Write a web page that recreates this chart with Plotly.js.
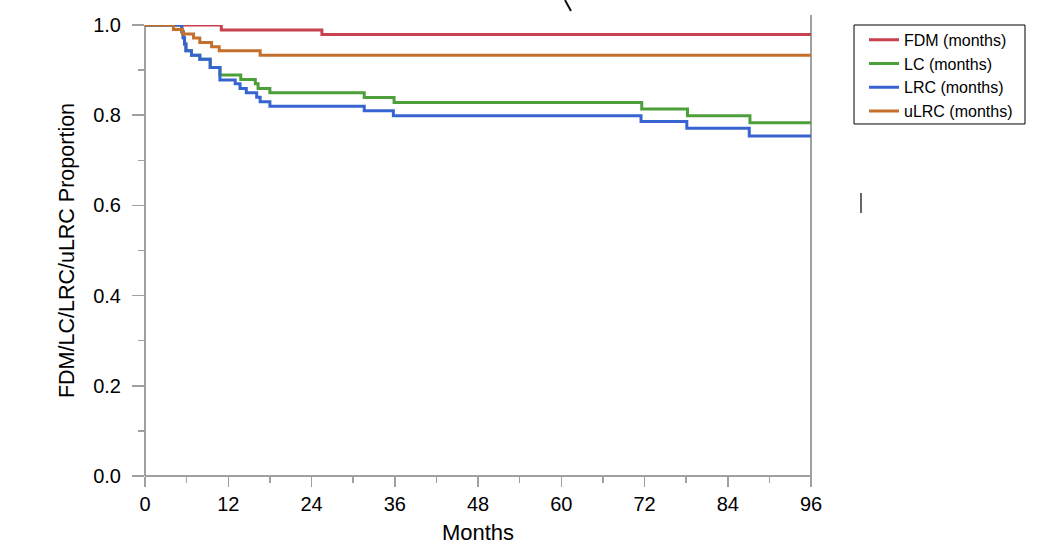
<!DOCTYPE html>
<html>
<head>
<meta charset="utf-8">
<script src="https://cdn.plot.ly/plotly-3.0.1.min.js"></script>
<style>html,body{margin:0;padding:0;background:#fff;}#chart{width:1050px;height:551px;}</style>
</head>
<body>
<div id="chart"></div>
<script>
// Kaplan-Meier step data
const fdmMonths = [0, 11.0, 25.5, 96];
const fdmSurv   = [1.0, 0.989, 0.979, 0.979];

const lcMonths = [0, 5.3, 5.5, 5.7, 5.9, 6.7, 7.9, 9.4, 10.8, 13.8, 15.9, 16.3, 18.0, 31.6, 35.9, 71.6, 78.2, 87.2, 96];
const lcSurv   = [1.0, 0.985, 0.972, 0.958, 0.943, 0.933, 0.924, 0.906, 0.889, 0.879, 0.870, 0.859, 0.850, 0.839, 0.828, 0.814, 0.799, 0.783, 0.783];

const lrcMonths = [0, 5.3, 5.5, 5.7, 5.9, 6.7, 7.9, 9.4, 10.8, 13.0, 13.7, 14.6, 16.1, 16.6, 18.0, 31.6, 35.8, 71.5, 78.1, 87.1, 96];
const lrcSurv   = [1.0, 0.985, 0.972, 0.958, 0.943, 0.933, 0.924, 0.906, 0.878, 0.870, 0.859, 0.850, 0.840, 0.830, 0.820, 0.810, 0.799, 0.786, 0.771, 0.754, 0.754];

const ulrcMonths = [0, 4.1, 5.4, 7.0, 7.9, 9.6, 10.7, 16.6, 96];
const ulrcSurv   = [1.0, 0.990, 0.980, 0.971, 0.961, 0.952, 0.943, 0.933, 0.933];

const seriesNames = ['FDM (months)', 'LC (months)', 'LRC (months)', 'uLRC (months)'];
const xTickVals = [0, 12, 24, 36, 48, 60, 72, 84, 96];
const yTickVals = [0.0, 0.2, 0.4, 0.6, 0.8, 1.0];
const yTickText = ['0.0', '0.2', '0.4', '0.6', '0.8', '1.0'];

const colors = ['#c8414e', '#4d9f3a', '#3864d2', '#c4702c'];
const xs = [fdmMonths, lcMonths, lrcMonths, ulrcMonths];
const ys = [fdmSurv, lcSurv, lrcSurv, ulrcSurv];

const traces = seriesNames.map((n, i) => ({
  x: xs[i], y: ys[i], name: n, type: 'scatter', mode: 'lines',
  line: {shape: 'hv', color: colors[i], width: 3},
  hoverinfo: 'x+y+name'
}));

const axisGray = '#a0a0a0';
const font = {family: '"Liberation Sans", Arial, Helvetica, sans-serif', color: '#000'};

const layout = {
  width: 1050, height: 551,
  margin: {l: 145, r: 239, t: 25, b: 75, pad: 0},
  paper_bgcolor: '#fff', plot_bgcolor: '#fff',
  font: font,
  showlegend: true,
  legend: {
    x: 1.0796, y: 1.005, xanchor: 'left', yanchor: 'top',
    borderwidth: 0, bgcolor: 'rgba(0,0,0,0)',
    font: {family: font.family, size: 16, color: '#000'},
    tracegroupgap: 0, itemwidth: 30
  },
  xaxis: {
    range: [0, 96], autorange: false, fixedrange: true,
    tickvals: xTickVals, ticktext: xTickVals.map(String),
    ticks: 'outside', ticklen: 10, tickwidth: 1.5, tickcolor: axisGray,
    minor: {dtick: 6, tick0: 0, ticks: 'outside', ticklen: 6, tickwidth: 1.5, tickcolor: axisGray, showgrid: false},
    showgrid: false, zeroline: false, showline: false,
    tickfont: {family: font.family, size: 20, color: '#000'},
    title: {text: 'Months', font: {family: font.family, size: 22, color: '#000'}, standoff: 10}
  },
  yaxis: {
    range: [0, 1], autorange: false, fixedrange: true,
    tickvals: yTickVals, ticktext: yTickText,
    ticks: 'outside', ticklen: 12, tickwidth: 1.5, tickcolor: axisGray,
    ticklabelstandoff: 7,
    minor: {dtick: 0.1, tick0: 0, ticks: 'outside', ticklen: 6, tickwidth: 1.5, tickcolor: axisGray, showgrid: false},
    showgrid: false, zeroline: false, showline: false,
    tickfont: {family: font.family, size: 20, color: '#000'},
    title: {text: 'FDM/LC/LRC/uLRC Proportion', font: {family: font.family, size: 21.5, color: '#000'}, standoff: 12}
  },
  shapes: [
    // axis lines
    {type: 'line', xref: 'paper', yref: 'paper', x0: 0, x1: 1, y0: 0, y1: 0, line: {color: axisGray, width: 2}, layer: 'below'},
    {type: 'line', xref: 'paper', yref: 'paper', x0: 0, x1: 0, y0: 0, y1: 1, line: {color: axisGray, width: 2}, layer: 'below'},
    {type: 'line', xref: 'paper', yref: 'paper', x0: 1, x1: 1, y0: -0.02, y1: 1.022, line: {color: axisGray, width: 2}, layer: 'below'},
    // legend frame
    {type: 'rect', xref: 'paper', yref: 'paper', x0: 1.0646, x1: 1.3213, y0: 0.7805, y1: 1.0, line: {color: '#000', width: 1}, fillcolor: 'rgba(0,0,0,0)', layer: 'below'},
    // stray marks present in the reference image
    {type: 'line', xref: 'paper', yref: 'paper', x0: 0.6306, x1: 0.6396, y0: 1.0554, y1: 1.031, line: {color: '#111', width: 2}},
    {type: 'line', xref: 'paper', yref: 'paper', x0: 1.0751, x1: 1.0751, y0: 0.6275, y1: 0.5831, line: {color: '#666', width: 2}}
  ]
};

Plotly.newPlot('chart', traces, layout, {displayModeBar: false, staticPlot: true});
</script>
</body>
</html>
